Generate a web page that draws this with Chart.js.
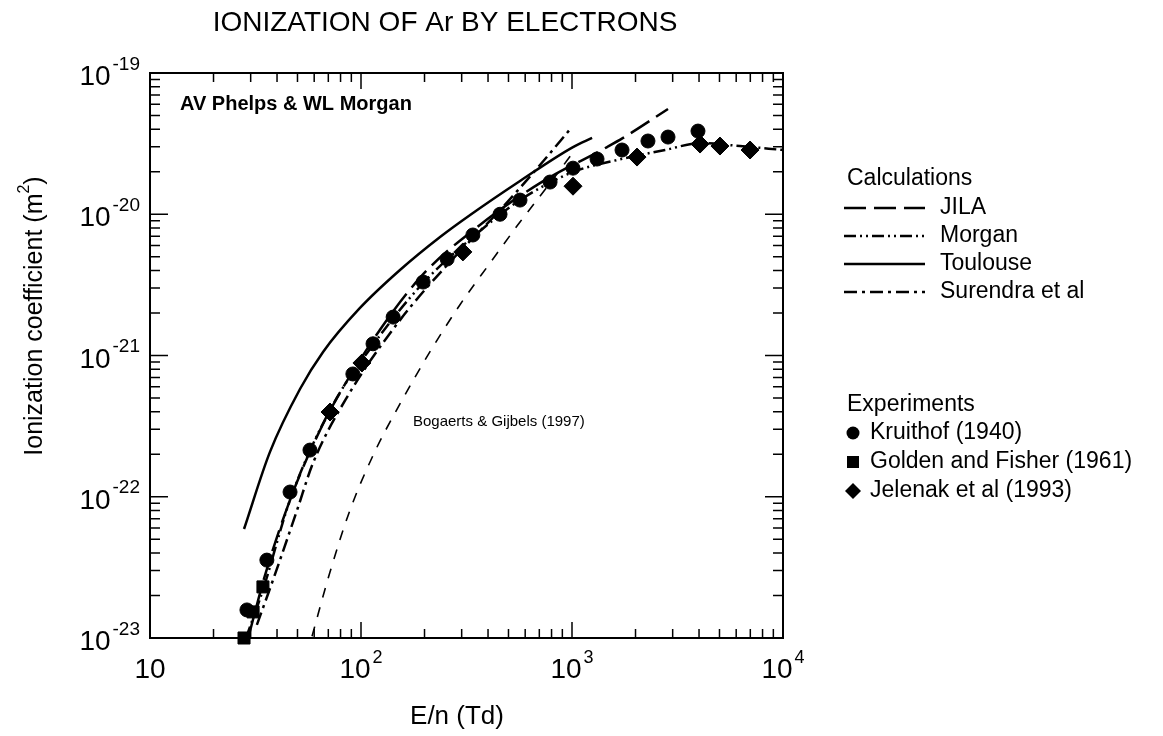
<!DOCTYPE html>
<html>
<head>
<meta charset="utf-8">
<script src="https://cdn.jsdelivr.net/npm/chart.js@4"></script>
<style>
  html, body { margin: 0; padding: 0; background: #fff; }
  #wrap { width: 1163px; height: 736px; }
</style>
</head>
<body>
<div id="wrap"><canvas id="chart" width="1163" height="736"></canvas></div>
<script>
// Ionization of Ar by electrons (Phelps & Morgan)
// E/n in Td, ionization coefficient in m^2

// Calculations
const jilaE = [29.2, 35.1, 46.1, 64.0, 98.9, 190, 366, 705, 1466, 1746, 2851];
const jilaAlpha = [1.0e-23, 2.79e-23, 9.48e-23, 2.97e-22, 9.29e-22, 3.54e-21, 8.39e-21, 1.66e-20, 2.99e-20, 3.47e-20, 5.56e-20];

const morganE = [28.5, 34.3, 46.1, 71.3, 114, 197, 339, 567, 1011, 1633, 2761, 4044, 6252, 10000];
const morganAlpha = [1.0e-23, 2.19e-23, 9.48e-23, 4.11e-22, 1.19e-21, 3.26e-21, 6.90e-21, 1.26e-20, 1.99e-20, 2.42e-20, 2.85e-20, 3.19e-20, 3.04e-20, 2.85e-20];

const toulouseE = [27.9, 37.0, 51.4, 66.1, 98.9, 153, 237, 329, 567, 1011, 1245];
const toulouseAlpha = [5.91e-23, 2.07e-22, 5.79e-22, 1.06e-21, 2.17e-21, 4.03e-21, 6.90e-21, 9.88e-21, 1.72e-20, 2.99e-20, 3.47e-20];

const surendraE = [32.1, 38.3, 49.8, 59.2, 85.9, 153, 264, 456, 705, 1000];
const surendraAlpha = [1.24e-23, 2.58e-23, 8.05e-23, 1.73e-22, 5.08e-22, 1.78e-21, 4.59e-21, 1.07e-20, 2.23e-20, 4.15e-20];

const bogaertsE = [58.6, 71.3, 88.7, 116, 153, 212, 294, 409, 567, 787, 1032];
const bogaertsAlpha = [1.03e-23, 2.93e-23, 8.05e-23, 2.07e-22, 4.54e-22, 1.06e-21, 2.28e-21, 4.52e-21, 8.81e-21, 1.66e-20, 2.85e-20];

// Experiments
const kruithofE = [28.8, 35.8, 46.1, 57.3, 91.5, 114, 142, 197, 256, 339, 456, 567, 787, 1011, 1314, 1726, 2291, 2851, 3954];
const kruithofAlpha = [1.58e-23, 3.56e-23, 1.08e-22, 2.14e-22, 7.40e-22, 1.21e-21, 1.87e-21, 3.31e-21, 4.82e-21, 7.13e-21, 1.00e-20, 1.26e-20, 1.69e-20, 2.12e-20, 2.46e-20, 2.85e-20, 3.30e-20, 3.52e-20, 3.88e-20];

const goldenE = [27.9, 30.8, 34.3];
const goldenAlpha = [1.0e-23, 1.53e-23, 2.30e-23];

const jelenakE = [71.3, 101, 304, 1011, 2033, 4044, 5026, 6980];
const jelenakAlpha = [3.98e-22, 8.85e-22, 5.41e-21, 1.58e-20, 2.54e-20, 3.14e-20, 3.04e-20, 2.85e-20];

// Axis decades
const xDecades = [10, 100, 1000, 10000];
const xExponents = ['', '2', '3', '4'];
const yDecades = [1e-19, 1e-20, 1e-21, 1e-22, 1e-23];
const yExponents = ['-19', '-20', '-21', '-22', '-23'];

const calcNames = ['JILA', 'Morgan', 'Toulouse', 'Surendra et al'];
const expNames = ['Kruithof (1940)', 'Golden and Fisher (1961)', 'Jelenak et al (1993)'];

const FONT = '"Liberation Sans", Arial, Helvetica, sans-serif';

function toPoints(xs, ys) {
    return xs.map((x, i) => ({x: x, y: ys[i]}));
}

function lineSet(label, xs, ys, dash, width) {
    return {
        label: label,
        data: toPoints(xs, ys),
        showLine: true,
        borderColor: '#000',
        borderWidth: width,
        borderDash: dash,
        pointRadius: 0,
        cubicInterpolationMode: 'monotone',
        fill: false,
        clip: false
    };
}

function markerSet(label, xs, ys, style, radius) {
    return {
        label: label,
        data: toPoints(xs, ys),
        showLine: false,
        pointStyle: style,
        pointRadius: radius,
        backgroundColor: '#000',
        borderColor: '#000',
        borderWidth: 1,
        clip: false
    };
}

const dashJila = [22, 8];
const dashMorgan = [12, 4, 2, 4, 2, 4];
const dashSurendra = [13, 5, 3, 5];
const dashBogaerts = [10, 10];

// draws "10" with a raised exponent
function drawPower(ctx, exp, x, baseY, align, bigSize, smallSize) {
    ctx.font = bigSize + 'px ' + FONT;
    const wBase = ctx.measureText('10').width;
    ctx.font = smallSize + 'px ' + FONT;
    const wExp = exp ? ctx.measureText(exp).width + 2 : 0;
    const total = wBase + wExp;
    let left = x;
    if (align === 'center') left = x - total / 2;
    if (align === 'right') left = x - total;
    ctx.textAlign = 'left';
    ctx.textBaseline = 'alphabetic';
    ctx.font = bigSize + 'px ' + FONT;
    ctx.fillText('10', left, baseY);
    if (exp) {
        ctx.font = smallSize + 'px ' + FONT;
        ctx.fillText(exp, left + wBase + 2, baseY - bigSize * 0.55);
    }
}

const framePlugin = {
    id: 'frame',
    afterDraw(chart) {
        const ctx = chart.ctx;
        const area = chart.chartArea;
        const xs = chart.scales.x;
        const ys = chart.scales.y;
        ctx.save();
        ctx.strokeStyle = '#000';
        ctx.fillStyle = '#000';
        ctx.setLineDash([]);

        // box
        ctx.lineWidth = 2;
        ctx.strokeRect(area.left, area.top, area.right - area.left, area.bottom - area.top);

        // x ticks, top and bottom, pointing in
        ctx.lineWidth = 1.5;
        for (let d = 0; d < xDecades.length; d++) {
            for (let m = 1; m <= 9; m++) {
                const v = xDecades[d] * m;
                if (v > xDecades[xDecades.length - 1]) break;
                const px = xs.getPixelForValue(v);
                const len = m === 1 ? 16 : 9;
                ctx.beginPath();
                ctx.moveTo(px, area.bottom);
                ctx.lineTo(px, area.bottom - len);
                ctx.moveTo(px, area.top);
                ctx.lineTo(px, area.top + len);
                ctx.stroke();
            }
        }
        // y ticks, left and right
        for (let d = yDecades.length - 1; d >= 0; d--) {
            for (let m = 1; m <= 9; m++) {
                const v = yDecades[d] * m;
                if (v > yDecades[0] * 1.0001) break;
                const py = ys.getPixelForValue(v);
                const len = m === 1 ? 18 : 10;
                ctx.beginPath();
                ctx.moveTo(area.left, py);
                ctx.lineTo(area.left + len, py);
                ctx.moveTo(area.right, py);
                ctx.lineTo(area.right - len, py);
                ctx.stroke();
            }
        }

        // tick labels
        xDecades.forEach((v, i) => {
            drawPower(ctx, xExponents[i], xs.getPixelForValue(v), area.bottom + 40, 'center', 28, 18);
        });
        yDecades.forEach((v, i) => {
            drawPower(ctx, yExponents[i], area.left - 10, ys.getPixelForValue(v) + 12, 'right', 28, 19);
        });

        // axis titles
        ctx.textAlign = 'center';
        ctx.textBaseline = 'middle';
        ctx.font = '26px ' + FONT;
        ctx.fillText('E/n (Td)', 457, 717);

        ctx.save();
        ctx.translate(33, 316);
        ctx.rotate(-Math.PI / 2);
        ctx.font = '25px ' + FONT;
        const t = 'Ionization coefficient (m';
        const wt = ctx.measureText(t).width;
        ctx.font = '16px ' + FONT;
        const w2 = ctx.measureText('2').width;
        ctx.font = '25px ' + FONT;
        const w3 = ctx.measureText(')').width;
        const start = -(wt + w2 + w3) / 2;
        ctx.textAlign = 'left';
        ctx.textBaseline = 'alphabetic';
        ctx.fillText(t, start, 9);
        ctx.font = '16px ' + FONT;
        ctx.fillText('2', start + wt, -4);
        ctx.font = '25px ' + FONT;
        ctx.fillText(')', start + wt + w2, 9);
        ctx.restore();

        // title
        ctx.textAlign = 'center';
        ctx.textBaseline = 'middle';
        ctx.font = '28px ' + FONT;
        ctx.fillText('IONIZATION OF Ar BY ELECTRONS', 445, 23);

        // notes in the plot
        ctx.textAlign = 'left';
        ctx.font = 'bold 20px ' + FONT;
        ctx.fillText('AV Phelps & WL Morgan', 180, 104);
        ctx.font = '15px ' + FONT;
        ctx.fillText('Bogaerts & Gijbels (1997)', 413, 422);

        // legend
        ctx.font = '23px ' + FONT;
        ctx.fillText('Calculations', 847, 179);
        const dashes = [dashJila, dashMorgan, [], dashSurendra];
        calcNames.forEach((name, i) => {
            const y = 208 + i * 28;
            ctx.lineWidth = 2.5;
            ctx.setLineDash(dashes[i]);
            ctx.beginPath();
            ctx.moveTo(844, y);
            ctx.lineTo(925, y);
            ctx.stroke();
            ctx.setLineDash([]);
            ctx.fillText(name, 940, y);
        });

        ctx.fillText('Experiments', 847, 405);
        expNames.forEach((name, i) => {
            const y = 433 + i * 29;
            ctx.beginPath();
            if (i === 0) {
                ctx.arc(853, y, 6.5, 0, Math.PI * 2);
            } else if (i === 1) {
                ctx.rect(847, y - 6, 12, 12);
            } else {
                ctx.moveTo(853, y - 8);
                ctx.lineTo(861, y);
                ctx.lineTo(853, y + 8);
                ctx.lineTo(845, y);
                ctx.closePath();
            }
            ctx.fill();
            ctx.fillText(name, 870, y);
        });

        ctx.restore();
    }
};

const ctx = document.getElementById('chart').getContext('2d');

new Chart(ctx, {
    type: 'scatter',
    data: {
        datasets: [
            lineSet('JILA', jilaE, jilaAlpha, dashJila, 2.5),
            lineSet('Morgan', morganE, morganAlpha, dashMorgan, 2.5),
            lineSet('Toulouse', toulouseE, toulouseAlpha, [], 2.5),
            lineSet('Surendra et al', surendraE, surendraAlpha, dashSurendra, 2.5),
            lineSet('Bogaerts & Gijbels (1997)', bogaertsE, bogaertsAlpha, dashBogaerts, 1.6),
            markerSet('Kruithof (1940)', kruithofE, kruithofAlpha, 'circle', 7),
            markerSet('Golden and Fisher (1961)', goldenE, goldenAlpha, 'rect', 8.5),
            markerSet('Jelenak et al (1993)', jelenakE, jelenakAlpha, 'rectRot', 9)
        ]
    },
    options: {
        responsive: false,
        animation: false,
        layout: {
            padding: {left: 150, right: 380, top: 73, bottom: 98}
        },
        scales: {
            x: {
                type: 'logarithmic',
                min: 10,
                max: 10000,
                display: false
            },
            y: {
                type: 'logarithmic',
                min: 1e-23,
                max: 1e-19,
                display: false
            }
        },
        plugins: {
            legend: {display: false},
            tooltip: {enabled: false}
        }
    },
    plugins: [framePlugin]
});
</script>
</body>
</html>
